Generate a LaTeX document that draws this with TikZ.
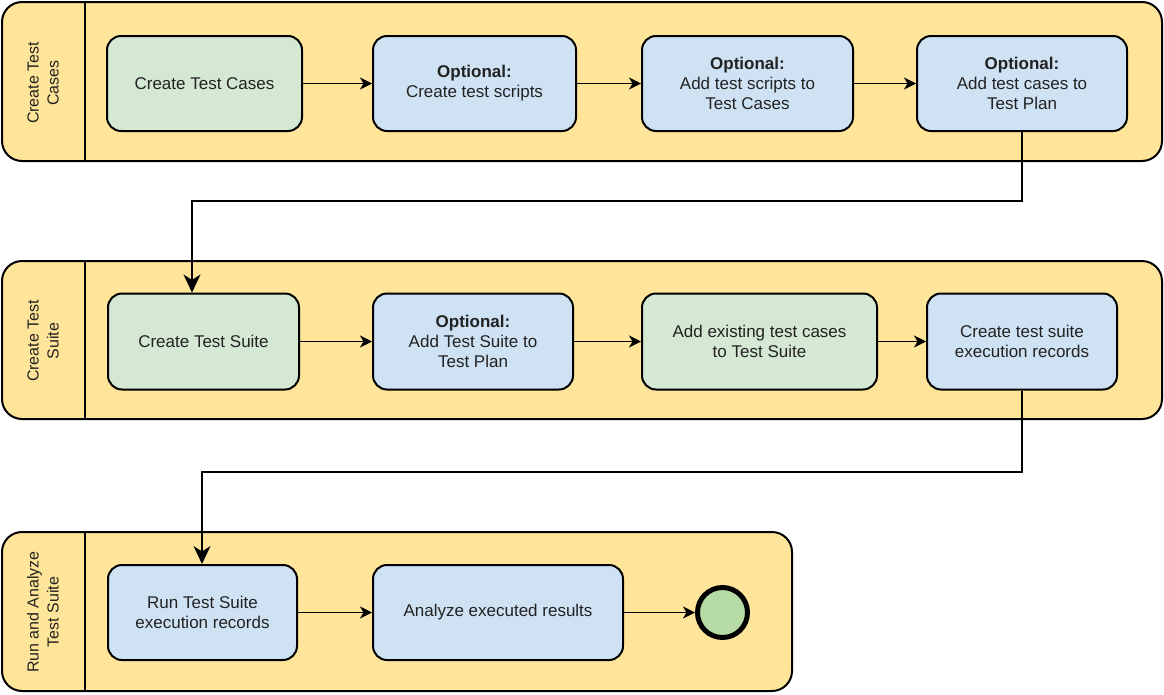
\documentclass[tikz,border=0pt]{standalone}
\usepackage{fontspec}
\setmainfont{Liberation Sans}
\usetikzlibrary{arrows.meta}
\definecolor{lanefill}{HTML}{FFE599}
\definecolor{bluefill}{HTML}{CFE2F3}
\definecolor{greenfill}{HTML}{D5E8D4}
\definecolor{endfill}{HTML}{B7DBA4}
\definecolor{txt}{HTML}{222222}
\tikzset{
  lane/.style={draw=black, fill=lanefill, line width=2pt, rounded corners=20pt},
  divider/.style={draw=black, line width=2pt},
  lanelabel/.style={rotate=90, align=center, text=txt, font=\fontsize{16}{20}\selectfont},
  task/.style={draw=black, line width=2pt, rounded corners=14pt, align=center,
    text=txt, font=\fontsize{17}{20}\selectfont, inner sep=0pt},
  bluetask/.style={task, fill=bluefill},
  greentask/.style={task, fill=greenfill},
  endevent/.style={circle, draw=black, fill=endfill, line width=5pt, minimum size=50pt, inner sep=0pt},
  arr/.style={draw=black, line width=1.8pt, -{Stealth[length=12pt,width=12pt,inset=3.5pt]}},
  bigarr/.style={draw=black, line width=1.8pt, -{Stealth[length=18pt,width=17pt,inset=5.5pt]}}
}
\begin{document}
\begin{tikzpicture}[x=1pt, y=-1pt]
\useasboundingbox (0,0) rectangle (1164,694);
% lanes
\path[lane] (2,2) rectangle (1162,161);
\draw[divider] (85,2) -- (85,161);
\node[lanelabel] (l1) at (43,83) {Create Test\\Cases};
\path[lane] (2,261) rectangle (1162,419);
\draw[divider] (85,261) -- (85,419);
\node[lanelabel] (l2) at (43,341) {Create Test\\Suite};
\path[lane] (2,532) rectangle (792,691);
\draw[divider] (85,532) -- (85,691);
\node[lanelabel] (l3) at (43,612) {Run and Analyze\\Test Suite};
% lane 1 tasks
\node[greentask, minimum width=195pt, minimum height=95pt] (n1) at (204.5,83.5) {Create Test Cases};
\node[bluetask, minimum width=203pt, minimum height=95pt] (n2) at (474.5,83.5) {\textbf{Optional:}\\Create test scripts};
\node[bluetask, minimum width=211pt, minimum height=95pt] (n3) at (747.5,83.5) {\textbf{Optional:}\\Add test scripts to\\Test Cases};
\node[bluetask, minimum width=210pt, minimum height=95pt] (n4) at (1022,83.5) {\textbf{Optional:}\\Add test cases to\\Test Plan};
% lane 2 tasks
\node[greentask, minimum width=191pt, minimum height=96pt] (m1) at (203.5,341.5) {Create Test Suite};
\node[bluetask, minimum width=200pt, minimum height=96pt] (m2) at (473,341.5) {\textbf{Optional:}\\Add Test Suite to\\Test Plan};
\node[greentask, minimum width=235pt, minimum height=96pt] (m3) at (759.5,341.5) {Add existing test cases\\to Test Suite};
\node[bluetask, minimum width=190pt, minimum height=96pt] (m4) at (1022,341.5) {Create test suite\\execution records};
% lane 3 tasks
\node[bluetask, minimum width=189pt, minimum height=95pt] (r1) at (202.5,612.5) {Run Test Suite\\execution records};
\node[bluetask, minimum width=250pt, minimum height=95pt] (r2) at (498,612.5) {Analyze executed results};
\node[endevent] (e) at (722.5,612.5) {};
% connectors
\draw[arr] (n1) -- (n2);
\draw[arr] (n2) -- (n3);
\draw[arr] (n3) -- (n4);
\draw[arr] (m1) -- (m2);
\draw[arr] (m2) -- (m3);
\draw[arr] (m3) -- (m4);
\draw[arr] (r1) -- (r2);
\draw[arr] (r2) -- (e);
\coordinate (c1) at (192,201);
\coordinate (c2) at (202,472);
\draw[bigarr] (n4.south) |- (c1) -- (c1 |- m1.north);
\draw[bigarr] (m4.south) |- (c2) -- (c2 |- r1.north);
\end{tikzpicture}
\end{document}
